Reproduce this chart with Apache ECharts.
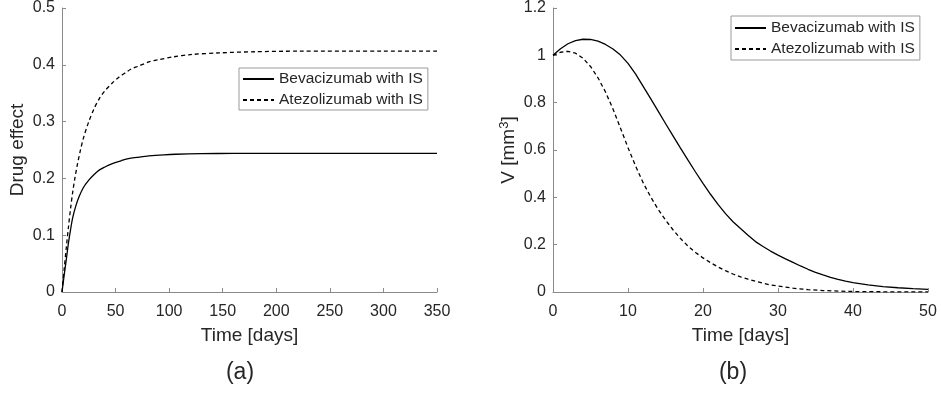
<!DOCTYPE html>
<html>
<head>
<meta charset="utf-8">
<script src="https://cdn.jsdelivr.net/npm/echarts@6/dist/echarts.min.js"></script>
<style>
html,body{margin:0;padding:0;background:#fff;}
#c{width:941px;height:394px;}
</style>
</head>
<body>
<div id="c"></div>
<script>
// ---- Panel (a): Drug effect ----
const tA   = [0, 2, 4, 6, 8, 10, 13, 16, 20, 25, 30, 35, 40, 47, 55, 62, 70, 81, 95, 106, 130, 160, 200, 250, 300, 350];
const bevA = [0, 0.029, 0.057, 0.086, 0.110, 0.131, 0.152, 0.168, 0.184, 0.197, 0.207, 0.215, 0.220, 0.226, 0.231, 0.235, 0.237, 0.2395, 0.2415, 0.2425, 0.2435, 0.244, 0.244, 0.244, 0.244, 0.244];
const tA2  = [0, 2, 4, 6, 8, 10, 12, 14, 17, 20, 25, 30, 35, 40, 47, 53, 60, 65, 72, 81, 90, 104, 120, 147, 180, 220, 300, 350];
const atzA = [0, 0.040, 0.078, 0.114, 0.147, 0.176, 0.200, 0.221, 0.248, 0.271, 0.300, 0.323, 0.341, 0.354, 0.368, 0.378, 0.387, 0.393, 0.398, 0.405, 0.409, 0.414, 0.418, 0.421, 0.423, 0.424, 0.424, 0.424];

// ---- Panel (b): Tumour volume ----
const tB   = [0, 1, 2, 3, 4, 5, 6, 7, 8, 9, 10, 11, 12, 13, 14, 15, 16, 17, 18, 19, 20, 21, 22, 23, 24, 25, 26, 27, 28, 29, 30, 31, 32, 33, 34, 35, 36, 37, 38, 39, 40, 42, 44, 46, 48, 50];
const bevB = [1.0, 1.028, 1.049, 1.062, 1.068, 1.067, 1.060, 1.046, 1.027, 1.001, 0.966, 0.922, 0.870, 0.818, 0.765, 0.712, 0.660, 0.608, 0.557, 0.507, 0.459, 0.413, 0.370, 0.331, 0.297, 0.268, 0.240, 0.213, 0.192, 0.173, 0.156, 0.140, 0.125, 0.110, 0.096, 0.083, 0.072, 0.062, 0.053, 0.046, 0.040, 0.030, 0.023, 0.018, 0.014, 0.011];
const tB2  = [0, 1, 2, 3, 4, 5, 6, 7, 8, 9, 10, 11, 12, 13, 14, 15, 16, 17, 18, 19, 20, 21, 22, 23, 24, 25, 26, 27, 28, 29, 30, 32, 34, 36, 38, 40, 45, 50];
const atzB = [1.0, 1.013, 1.017, 1.009, 0.988, 0.953, 0.905, 0.845, 0.773, 0.692, 0.610, 0.533, 0.463, 0.403, 0.350, 0.304, 0.263, 0.226, 0.194, 0.167, 0.144, 0.124, 0.106, 0.090, 0.076, 0.064, 0.054, 0.045, 0.037, 0.030, 0.025, 0.016, 0.010, 0.006, 0.004, 0.002, 0.0007, 0.0002];

const xTicksA = [0, 350, 50];   // min, max, interval
const yTicksA = [0, 0.5, 0.1];
const xTicksB = [0, 50, 10];
const yTicksB = [0, 1.2, 0.2];

const names = ['Bevacizumab with IS', 'Atezolizumab with IS'];
const panelLabels = ['(a)', '(b)'];

const FONT = '"Liberation Sans", Arial, Helvetica, sans-serif';
const AXC = '#8a8a8a';
const TXC = '#262626';

function zip(x, y) { return x.map((v, i) => [v, y[i]]); }

function xAxis(idx, t) {
  return {
    type: 'value', gridIndex: idx, min: t[0], max: t[1], interval: t[2],
    name: 'Time [days]', nameLocation: 'middle', nameGap: 34,
    nameTextStyle: { fontFamily: FONT, fontSize: 19, color: TXC },
    axisLine: { show: true, lineStyle: { color: AXC, width: 1 } },
    axisTick: { show: true, inside: true, length: 4, lineStyle: { color: AXC } },
    axisLabel: { fontFamily: FONT, fontSize: 16, color: TXC, margin: 12 },
    splitLine: { show: false }
  };
}
function yAxis(idx, t, name, gap, rich) {
  const o = {
    type: 'value', gridIndex: idx, min: t[0], max: t[1], interval: t[2],
    name: name, nameLocation: 'middle', nameGap: gap,
    nameTextStyle: { fontFamily: FONT, fontSize: 19, color: TXC },
    axisLine: { show: true, lineStyle: { color: AXC, width: 1 } },
    axisTick: { show: true, inside: true, length: 4, lineStyle: { color: AXC } },
    axisLabel: { fontFamily: FONT, fontSize: 16, color: TXC, margin: 7 },
    splitLine: { show: false }
  };
  if (rich) o.nameTextStyle.rich = rich;
  return o;
}
function line(name, xi, data, dashed, smooth) {
  return {
    name: name, type: 'line', xAxisIndex: xi, yAxisIndex: xi,
    data: data, symbol: 'none', smooth: smooth, animation: false,
    lineStyle: { color: '#000', width: 1.3, type: dashed ? [4, 3] : 'solid' },
    itemStyle: { color: '#000' }
  };
}
function legend(left, top, pad) {
  return {
    data: names, orient: 'vertical', left: left, top: top,
    padding: pad, itemWidth: 31, itemHeight: 16, itemGap: 5,
    backgroundColor: '#fff', borderColor: '#9a9a9a', borderWidth: 1, borderRadius: 0,
    itemStyle: { opacity: 0, borderWidth: 0 },
    textStyle: { fontFamily: FONT, fontSize: 15.5, color: TXC },
    selectedMode: false
  };
}

const chart = echarts.init(document.getElementById('c'), null, { renderer: 'canvas' });
chart.setOption({
  backgroundColor: '#fff',
  animation: false,
  grid: [
    { left: 62, top: 8, width: 375, height: 284 },
    { left: 553, top: 8, width: 375, height: 284 }
  ],
  xAxis: [xAxis(0, xTicksA), xAxis(1, xTicksB)],
  yAxis: [
    yAxis(0, yTicksA, 'Drug effect', 35),
    yAxis(1, yTicksB, '{n|V [mm}{s|3}{n|]}', 33, {
      n: { fontFamily: FONT, fontSize: 19, color: TXC },
      s: { fontFamily: FONT, fontSize: 13, color: TXC, verticalAlign: 'top', padding: [0, 0, 9, 0] }
    })
  ],
  legend: [legend(239, 68, [3, 5, 2, 3]), legend(731, 16, [4, 5, 3, 3])],
  series: [
    line(names[0], 0, zip(tA, bevA), false, 0.3),
    line(names[1], 0, zip(tA2, atzA), true, 0.3),
    line(names[0], 1, zip(tB, bevB), false, false),
    line(names[1], 1, zip(tB2, atzB), true, false)
  ],
  graphic: [
    { type: 'text', x: 240, y: 373, style: { text: panelLabels[0], font: '23px ' + FONT, fill: TXC, align: 'center', verticalAlign: 'middle' } },
    { type: 'text', x: 733, y: 373, style: { text: panelLabels[1], font: '23px ' + FONT, fill: TXC, align: 'center', verticalAlign: 'middle' } }
  ]
});
</script>
</body>
</html>
